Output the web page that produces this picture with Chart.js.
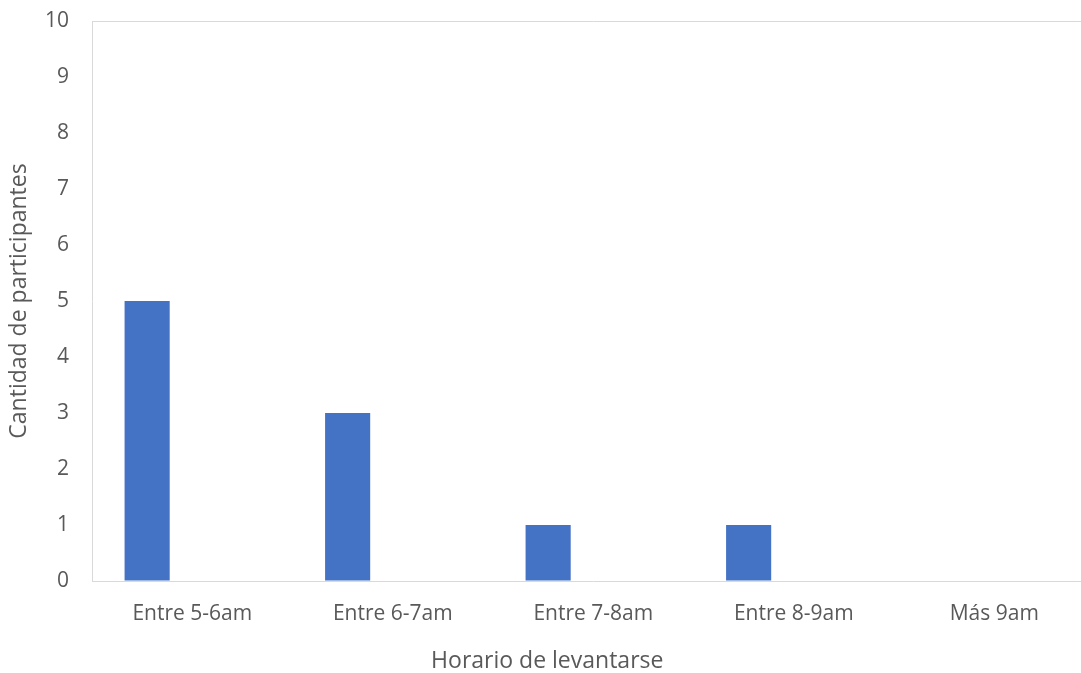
<!DOCTYPE html>
<html lang="es">
<head>
<meta charset="utf-8">
<title>Horario de levantarse</title>
<script src="https://cdn.jsdelivr.net/npm/chart.js@4/dist/chart.umd.min.js"></script>
<style>
  html, body { margin: 0; padding: 0; background: #ffffff; overflow: hidden; }
  #wrap { width: 1108px; height: 673px; }
</style>
</head>
<body>
<div id="wrap"><canvas id="chart" width="1108" height="673"></canvas></div>
<script>
// Wake-up time slots and number of participants in each
const categories = ['Entre 5-6am', 'Entre 6-7am', 'Entre 7-8am', 'Entre 8-9am', 'Más 9am'];
const participantes = [5, 3, 1, 1, 0];
const serie2 = [0, 0, 0, 0, 0];
const yTicks = [0, 1, 2, 3, 4, 5, 6, 7, 8, 9, 10];

const axisGrey = '#d9d9d9';
const textGrey = '#595959';
const clear = 'rgba(0,0,0,0)';
const fontFamily = '"Open Sans", "Noto Sans", sans-serif';

new Chart(document.getElementById('chart'), {
  type: 'bar',
  data: {
    labels: categories,
    datasets: [
      { label: 'Serie 1', data: participantes, backgroundColor: '#4472c4', borderWidth: 0,
        barPercentage: 0.5, categoryPercentage: 0.9 },
      { label: 'Serie 2', data: serie2, backgroundColor: '#ed7d31', borderWidth: 0,
        barPercentage: 0.5, categoryPercentage: 0.9 }
    ]
  },
  options: {
    responsive: false,
    animation: false,
    layout: { padding: { top: 21, right: 13.5, left: 0, bottom: 0 } },
    plugins: {
      legend: { display: false },
      tooltip: { enabled: false },
      title: {
        display: true,
        position: 'bottom',
        text: 'Horario de levantarse',
        color: textGrey,
        font: { family: fontFamily, size: 23, weight: 'normal', lineHeight: 1 },
        padding: { top: 0, bottom: 0 }
      }
    },
    scales: {
      x: {
        grid: { display: false },
        border: { display: true, color: axisGrey, width: 1 },
        ticks: {
          color: textGrey,
          font: { family: fontFamily, size: 21 },
          padding: 12,
          maxRotation: 0
        },
        afterFit: (scale) => { scale.height = 69; }
      },
      y: {
        min: 0,
        max: 10,
        afterBuildTicks: (scale) => { scale.ticks = yTicks.map(v => ({ value: v })); },
        grid: {
          drawTicks: true,
          tickLength: 23,
          tickColor: clear,
          color: (ctx) => (ctx.tick && ctx.tick.value === 10 ? axisGrey : clear),
          lineWidth: 1
        },
        border: { display: true, color: axisGrey, width: 1 },
        ticks: {
          color: textGrey,
          font: { family: fontFamily, size: 21 },
          padding: 0
        },
        title: {
          display: true,
          text: 'Cantidad de participantes',
          color: textGrey,
          font: { family: fontFamily, size: 23, weight: 'normal' },
          padding: { top: 6, bottom: 0 }
        },
        afterFit: (scale) => { scale.width = 92; }
      }
    }
  }
});
</script>
</body>
</html>
